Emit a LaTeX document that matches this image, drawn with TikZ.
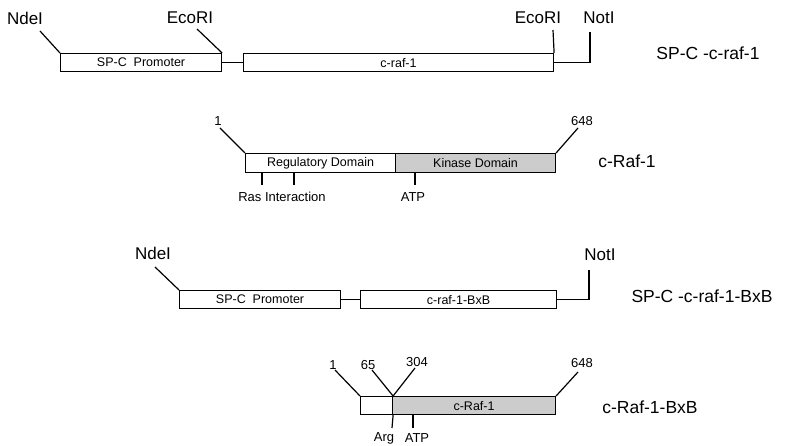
\documentclass[tikz,border=0pt]{standalone}
\usepackage{fontspec}
\setmainfont{Liberation Sans}
\begin{document}
\begin{tikzpicture}[x=1pt,y=-1pt,
  ln/.style={line width=1.2pt},
  boxw/.style={draw, line width=1.1pt, fill=white, anchor=north west, inner sep=0pt, font=\fontsize{12.5}{14}\selectfont},
  boxg/.style={boxw, fill=gray!40},
  site/.style={font=\fontsize{17}{20}\selectfont, inner sep=0pt},
  big/.style={font=\fontsize{17.5}{20}\selectfont, inner sep=0pt},
  sm/.style={font=\fontsize{13}{15}\selectfont, inner sep=0pt}]
\useasboundingbox (0,0) rectangle (785,446);

% ---------- Row 1 ----------
\node[boxw, minimum width=161pt, minimum height=18pt] (prom1) at (60,53) {SP-C\ \ Promoter};
\node[boxw, minimum width=310pt, minimum height=18pt] (raf1) at (243,53) {c-raf-1};
\draw[ln] (prom1.east) -- (raf1.west);
\node[site] (nde1) at (25,18) {NdeI};
\coordinate (nde1e) at (40,31);
\draw[ln] (nde1e) -- (prom1.north west);
\node[site] (eco1) at (190,18) {EcoRI};
\coordinate (eco1e) at (197,29);
\draw[ln] (eco1e) -- (prom1.north east);
\node[site] (eco2) at (538,18) {EcoRI};
\coordinate (eco2e) at (553,30);
\draw[ln] (eco2e) -- (raf1.north east);
\node[site] (not1) at (599,18) {NotI};
\coordinate (not1e) at (590,32);
\draw[ln] (raf1.east) -| (not1e);
\node[big] (lab1) at (708,53) {SP-C -c-raf-1};

% ---------- Row 2 ----------
\node[boxw, minimum width=150pt, minimum height=19pt] (reg) at (245,153) {Regulatory Domain};
\node[boxg, minimum width=160pt, minimum height=19pt] (kin) at (395,153) {Kinase Domain};
\node[sm] (n1a) at (218,121) {1};
\coordinate (n1ae) at (220,128);
\draw[ln] (n1ae) -- (reg.north west);
\node[sm] (n648a) at (582,121) {648};
\coordinate (n648ae) at (578,128);
\draw[ln] (n648ae) -- (kin.north east);
\coordinate (t1a) at (262,172); \coordinate (t1b) at (262,185);
\coordinate (t2a) at (294,172); \coordinate (t2b) at (294,185);
\coordinate (t3a) at (415,172); \coordinate (t3b) at (415,185);
\draw[ln] (t1a) -- (t1b);
\draw[ln] (t2a) -- (t2b);
\draw[ln] (t3a) -- (t3b);
\node[sm] (ras) at (282,197) {Ras Interaction};
\node[sm] (atp1) at (413,197) {ATP};
\node[big] (lab2) at (627,161) {c-Raf-1};

% ---------- Row 3 ----------
\node[boxw, minimum width=161pt, minimum height=18pt] (prom3) at (179,290) {SP-C\ \ Promoter};
\node[boxw, minimum width=196pt, minimum height=18pt] (bxb) at (360,290) {c-raf-1-BxB};
\draw[ln] (prom3.east) -- (bxb.west);
\node[site] (nde3) at (153,253) {NdeI};
\coordinate (nde3e) at (155,267);
\draw[ln] (nde3e) -- (prom3.north west);
\node[site] (not3) at (600,255) {NotI};
\coordinate (not3e) at (589,270);
\draw[ln] (bxb.east) -| (not3e);
\node[big] (lab3) at (702,296) {SP-C -c-raf-1-BxB};

% ---------- Row 4 ----------
\node[boxw, minimum width=32pt, minimum height=18pt] (w4) at (360,396) {};
\node[boxg, minimum width=163pt, minimum height=18pt] (g4) at (392,396) {c-Raf-1};
\node[sm] (n1b) at (333,365) {1};
\coordinate (n1be) at (335,370);
\draw[ln] (n1be) -- (w4.north west);
\node[sm] (n65) at (368,365) {65};
\coordinate (n65e) at (372,370);
\draw[ln] (n65e) -- (w4.north east);
\node[sm] (n304) at (417,362) {304};
\coordinate (n304e) at (415,368);
\draw[ln] (n304e) -- (w4.north east);
\node[sm] (n648b) at (582,363) {648};
\coordinate (n648be) at (578,372);
\draw[ln] (n648be) -- (g4.north east);
\coordinate (argb) at (392,428);
\draw[ln] (w4.south east) -- (argb);
\coordinate (atpa) at (413,414); \coordinate (atpb) at (413,428);
\draw[ln] (atpa) -- (atpb);
\node[sm] (arg) at (384,438) {Arg};
\node[sm] (atp2) at (417,438) {ATP};
\node[big] (lab4) at (650,407) {c-Raf-1-BxB};
\end{tikzpicture}
\end{document}
